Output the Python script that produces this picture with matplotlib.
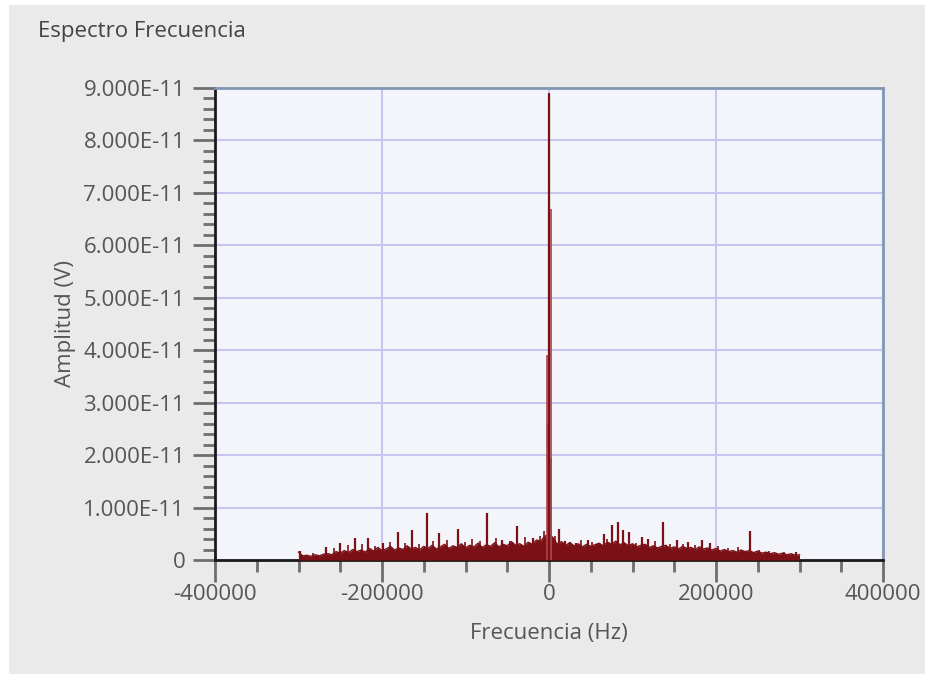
import matplotlib
matplotlib.use("Agg")
import matplotlib.pyplot as plt
from matplotlib.patches import Rectangle
from matplotlib.ticker import MultipleLocator, FuncFormatter
import numpy as np

# ---------------- data (amplitudes in units of 1e-11 V) ----------------
noise_freq_left = list(range(-300000, 0, 5000))
noise_amp_left = [0.15, 0.08, 0.09, 0.07, 0.10, 0.08, 0.11, 0.12, 0.10, 0.16,
                  0.13, 0.18, 0.14, 0.20, 0.16, 0.19, 0.15, 0.22, 0.17, 0.24,
                  0.18, 0.21, 0.26, 0.19, 0.23, 0.20, 0.27, 0.21, 0.24, 0.19,
                  0.26, 0.22, 0.28, 0.21, 0.25, 0.30, 0.22, 0.27, 0.24, 0.31,
                  0.23, 0.28, 0.25, 0.32, 0.24, 0.29, 0.26, 0.33, 0.25, 0.30,
                  0.27, 0.35, 0.28, 0.31, 0.26, 0.34, 0.30, 0.38, 0.36, 0.45]
noise_freq_right = list(range(0, 300001, 5000))
noise_amp_right = [0.50,
                   0.42, 0.30, 0.35, 0.28, 0.33, 0.27, 0.31, 0.25, 0.30, 0.26,
                   0.29, 0.32, 0.27, 0.34, 0.30, 0.36, 0.29, 0.33, 0.27, 0.31,
                   0.25, 0.28, 0.30, 0.24, 0.27, 0.23, 0.26, 0.28, 0.22, 0.25,
                   0.21, 0.26, 0.22, 0.24, 0.20, 0.25, 0.21, 0.23, 0.19, 0.22,
                   0.17, 0.20, 0.16, 0.18, 0.15, 0.19, 0.16, 0.18, 0.14, 0.17,
                   0.13, 0.15, 0.12, 0.14, 0.11, 0.13, 0.10, 0.12, 0.09, 0.10]

spike_freq = [-298000, -267000, -250000, -232000, -217000, -199000, -181000,
              -164000, -146500, -131700, -109400, -73900, -56300, -38700,
              -19000, 0, 12300, 19000, 25000, 32400,
              47000, 57000, 65800, 75000, 82300, 89000, 96200, 111000, 119000,
              137000, 153700, 167000, 183000, 193000, 241000, 296000]
spike_amp = [0.18, 0.25, 0.33, 0.41, 0.41, 0.32, 0.54,
             0.57, 0.89, 0.51, 0.60, 0.89, 0.38, 0.65,
             0.41, 8.9, 0.60, 0.37, 0.35, 0.33,
             0.39, 0.31, 0.50, 0.66, 0.72, 0.57, 0.54, 0.44, 0.40,
             0.72, 0.39, 0.35, 0.38, 0.32, 0.56, 0.16]

# bins right beside the main peak (drawn lighter, as in the reference)
side_freq = [-2000, -1200, 1800, 2600]
side_amp = [3.9, 2.6, 1.95, 6.7]

small_spike_freq = [-283000, -258000, -241000, -224000, -208000, -190000,
                    -172000, -156000, -139000, -122000, -101000, -92000,
                    -83000, -64000, -47000, -29000, -11000, -6000, 7000,
                    38000, 52000, 70000, 104000, 127000, 145000, 160000,
                    175000, 202000, 214000, 226000, 252000, 263000, 282000]
small_spike_amp = [0.14, 0.22, 0.28, 0.30, 0.27, 0.35, 0.33, 0.30, 0.36, 0.38,
                   0.34, 0.40, 0.36, 0.42, 0.37, 0.44, 0.46, 0.55, 0.45,
                   0.38, 0.34, 0.40, 0.33, 0.36, 0.30, 0.31, 0.29, 0.27,
                   0.22, 0.24, 0.20, 0.18, 0.15]

x_ticks = [-400000, -200000, 0, 200000, 400000]
y_ticks = [0, 1, 2, 3, 4, 5, 6, 7, 8, 9]  # x 1e-11

title = "Espectro Frecuencia"
x_label = "Frecuencia (Hz)"
y_label = "Amplitud (V)"

# ---------------- figure ----------------
W, H = 925, 674
fig = plt.figure(figsize=(W / 100, H / 100), dpi=100)
fig.patch.set_facecolor("white")
fig.patches.append(Rectangle((9 / W, 0), 1, (H - 5) / H, transform=fig.transFigure,
                             facecolor="#eaeaea", edgecolor="none", zorder=-10))

plt.rcParams['font.family'] = ['Open Sans', 'DejaVu Sans']
FS = 16

ax = fig.add_axes([215 / W, (H - 560) / H, (883 - 215) / W, (560 - 88) / H])
ax.set_facecolor("#f4f5fa")

red = "#7b1116"
light_red = "#a8454c"
scale = 1e-11
nf = np.array(noise_freq_left + noise_freq_right, dtype=float)
na = np.array(noise_amp_left + noise_amp_right) * scale
ax.fill_between(nf, 0, na, color=red, linewidth=0, zorder=3)
ax.plot(nf, na, color=red, linewidth=1.0, zorder=3)
ax.vlines(small_spike_freq, 0, np.array(small_spike_amp) * scale, color=red,
          linewidth=1.2, zorder=4)
ax.vlines(side_freq, 0, np.array(side_amp) * scale, color=light_red,
          linewidth=1.2, zorder=4)
ax.vlines(spike_freq, 0, np.array(spike_amp) * scale, color=red, linewidth=1.6,
          zorder=5)

ax.set_xlim(-400000, 400000)
ax.set_ylim(0, 9e-11)

ax.xaxis.set_minor_locator(MultipleLocator(50000))
ax.yaxis.set_minor_locator(MultipleLocator(0.2e-11))
ax.set_xticks(x_ticks)
ax.set_xticklabels([str(v) for v in x_ticks])
ax.set_yticks([v * scale for v in y_ticks])
ax.yaxis.set_major_formatter(FuncFormatter(
    lambda v, p: "0" if abs(v) < 1e-20 else f"{v / scale:.3f}E-11"))

ax.grid(True, which="major", color="#c6c6f0", linewidth=1.5, zorder=1)
ax.set_axisbelow(True)

tick_col = "#6e6e6e"
ax.tick_params(axis="both", which="major", direction="out", length=15.5, width=2,
               color=tick_col, labelcolor="#555555", labelsize=FS)
ax.tick_params(axis="both", which="minor", direction="out", length=8.5, width=2,
               color=tick_col)
ax.tick_params(axis="y", which="major", pad=6)
ax.tick_params(axis="x", which="major", pad=2)

for side in ["left", "bottom"]:
    ax.spines[side].set_color("#1a1a1a")
    ax.spines[side].set_linewidth(2)
for side in ["top", "right"]:
    ax.spines[side].set_color("#8297b6")
    ax.spines[side].set_linewidth(2)

fig.text(549 / W, 1 - 633 / H, x_label, fontsize=FS, color="#555555",
         ha="center", va="center")
fig.text(66 / W, 1 - 324 / H, y_label, fontsize=FS, color="#555555",
         ha="center", va="center", rotation=90)
fig.text(38 / W, 1 - 31 / H, title, fontsize=FS, color="#444444",
         ha="left", va="center")

fig.savefig("out.png", dpi=100)
